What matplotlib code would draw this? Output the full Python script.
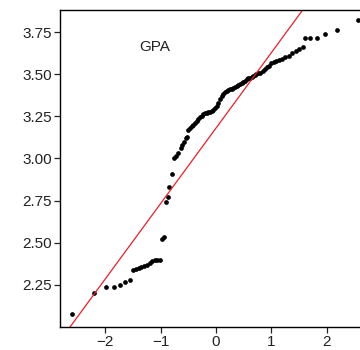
import matplotlib
matplotlib.use("Agg")
import matplotlib.pyplot as plt

plt.rcParams['font.family'] = ['Liberation Sans', 'DejaVu Sans']

# theoretical normal quantiles
theo_q = [-2.60, -2.21, -1.99, -1.84, -1.74, -1.65, -1.56,
          -1.50, -1.45, -1.40, -1.35, -1.30, -1.25, -1.20, -1.15, -1.10, -1.06, -1.02,
          -0.98, -0.95, -0.90, -0.87, -0.85, -0.80, -0.76, -0.72, -0.68,
          -0.64, -0.61, -0.58, -0.55,
          -0.53, -0.50, -0.47, -0.44, -0.41, -0.38, -0.35, -0.32, -0.29, -0.26,
          -0.23, -0.20, -0.17, -0.14, -0.11, -0.08, -0.05, -0.02, 0.01, 0.04,
          0.07, 0.10, 0.13, 0.16, 0.19, 0.22, 0.25, 0.28, 0.31, 0.34,
          0.37, 0.40, 0.43, 0.46, 0.49, 0.52, 0.55, 0.58, 0.61, 0.64,
          0.67, 0.70, 0.73, 0.76, 0.80, 0.84, 0.88, 0.92, 0.96, 1.00,
          1.04, 1.09, 1.14, 1.19, 1.25, 1.31, 1.37, 1.44, 1.50, 1.57,
          1.61, 1.70, 1.83, 1.97, 2.19, 2.57]

# sorted GPA values
gpa = [2.08, 2.20, 2.24, 2.24, 2.25, 2.265, 2.28,
       2.34, 2.345, 2.35, 2.355, 2.36, 2.37, 2.38, 2.39, 2.395, 2.40, 2.40,
       2.52, 2.535, 2.74, 2.77, 2.83, 2.91, 3.00, 3.015, 3.03,
       3.06, 3.08, 3.10, 3.12,
       3.13, 3.17, 3.18, 3.19, 3.20, 3.21, 3.22, 3.235, 3.245, 3.255,
       3.265, 3.27, 3.27, 3.275, 3.275, 3.28, 3.29, 3.30, 3.31, 3.33,
       3.35, 3.37, 3.385, 3.395, 3.40, 3.405, 3.41, 3.415, 3.42, 3.425,
       3.43, 3.435, 3.44, 3.45, 3.455, 3.46, 3.47, 3.475, 3.48, 3.485,
       3.49, 3.495, 3.50, 3.505, 3.51, 3.52, 3.53, 3.54, 3.55, 3.565,
       3.575, 3.58, 3.585, 3.59, 3.60, 3.61, 3.625, 3.64, 3.65, 3.66,
       3.716, 3.716, 3.716, 3.736, 3.76, 3.82]

# reference line (mean / sd)
gpa_mean = 3.181
gpa_sd = 0.4475

fig = plt.figure(figsize=(3.6, 3.5), dpi=100)
ax = fig.add_axes([60/360, 23/350, 300/360, 317.5/350])

ax.plot(theo_q, gpa, 'o', color='black', ms=3.4, mew=0)
ax.axline((0, gpa_mean), slope=gpa_sd, color='#e8202a', lw=0.9)

ax.set_xlim(-2.82, 2.60)
ax.set_ylim(2.0, 3.884)
ax.set_xticks([-2, -1, 0, 1, 2])
ax.set_yticks([2.25, 2.50, 2.75, 3.00, 3.25, 3.50, 3.75])
ax.set_yticklabels(['2.25', '2.50', '2.75', '3.00', '3.25', '3.50', '3.75'])
ax.tick_params(direction='out', length=4, width=0.9, labelsize=11, pad=2, colors='#222222')
ax.spines['right'].set_visible(False)
for s in ['left', 'bottom', 'top']:
    ax.spines[s].set_linewidth(1.0)

ax.text(0.317, 0.882, 'GPA', transform=ax.transAxes, ha='center', va='center',
        fontsize=11, color='#222222')

fig.savefig('out.png', dpi=100)
